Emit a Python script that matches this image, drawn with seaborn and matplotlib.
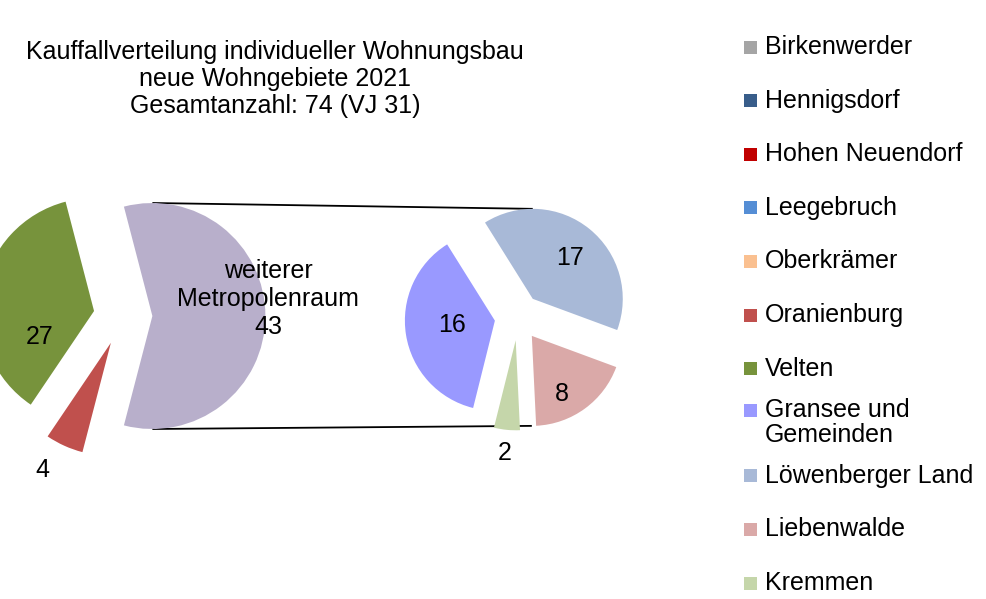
import matplotlib.pyplot as plt
from matplotlib.patches import Rectangle
import seaborn as sns

sns.set_theme(style='white')
plt.rcParams['font.family'] = ['Liberation Sans', 'DejaVu Sans']
plt.rcParams['text.color'] = 'black'

# Daten
gemeinden = ['Birkenwerder', 'Hennigsdorf', 'Hohen Neuendorf', 'Leegebruch', 'Oberkrämer',
             'Oranienburg', 'Velten', 'Gransee und\nGemeinden', 'Löwenberger Land',
             'Liebenwalde', 'Kremmen']
kauffaelle = [0, 0, 0, 0, 0, 4, 27, 16, 17, 8, 2]
farben = ['#A5A5A5', '#385D8A', '#C00000', '#558ED5', '#FAC090', '#C0504D', '#77933C',
          '#9999FF', '#A8B9D7', '#DAA9A8', '#C5D6AA']
n_berlinnah = 7  # die ersten 7 Gemeinden im linken Kreis
rest_name = 'weiterer\nMetropolenraum'
rest_farbe = '#B8AFCB'
titel = 'Kauffallverteilung individueller Wohnungsbau\nneue Wohngebiete 2021\nGesamtanzahl: 74 (VJ 31)'

fs = 18

fig = plt.figure(figsize=(9.87, 5.99), dpi=100)
ax = fig.add_axes([0, 0, 1, 1])

# linker Kreis
r_links = 113
links_werte = [v for v in kauffaelle[:n_berlinnah] if v > 0]
links_farben = [f for v, f in zip(kauffaelle[:n_berlinnah], farben) if v > 0]
rest = sum(kauffaelle[n_berlinnah:])
links_werte.append(rest)
links_farben.append(rest_farbe)
rest_winkel = 360 * rest / sum(links_werte)

w_links, _ = ax.pie(links_werte, colors=links_farben, radius=r_links, center=(123, 283),
                    startangle=360 - rest_winkel / 2, counterclock=False,
                    explode=[0.26 * r_links] * len(links_werte), wedgeprops=dict(linewidth=0))

# rechter Kreis
r_rechts = 90
rechts_werte = kauffaelle[n_berlinnah:]
w_rechts, _ = ax.pie(rechts_werte, colors=farben[n_berlinnah:], radius=r_rechts, center=(518, 282),
                     startangle=256, counterclock=False,
                     explode=[0.26 * r_rechts] * len(rechts_werte), wedgeprops=dict(linewidth=0))

# Verbindungslinien
lw = w_links[-1]
for s in (1, -1):
    ziel = w_rechts[1] if s == 1 else w_rechts[2]
    ax.plot([lw.center[0], ziel.center[0]],
            [lw.center[1] + s * lw.r, ziel.center[1] + s * ziel.r],
            color='black', lw=1.3, solid_capstyle='butt', zorder=0)

# Beschriftungen
links_pos = [(42, 129), (40, 262), (268, 300)]
links_text = [str(v) for v in links_werte[:-1]] + [rest_name + '\n' + str(rest)]
for (x, y), t in zip(links_pos, links_text):
    ax.text(x, y, t, ha='center', va='center', fontsize=fs, linespacing=1.22)

rechts_pos = [(452, 274), (570, 341), (562, 205), (505, 146)]
for (x, y), v in zip(rechts_pos, rechts_werte):
    ax.text(x, y, str(v), ha='center', va='center', fontsize=fs)

ax.text(275, 520, titel, ha='center', va='center', fontsize=fs, linespacing=1.17)

# Legende
for i, (name, farbe) in enumerate(zip(gemeinden, farben)):
    y = 599 - (47 + 53.6 * i)
    ym = y + 12 * name.count('\n')
    ax.add_patch(Rectangle((744, ym - 6.5), 13, 13, color=farbe, lw=0))
    ax.text(765, y, name, ha='left', va='center', fontsize=fs, linespacing=1.05)

ax.set_xlim(0, 987)
ax.set_ylim(0, 599)
ax.set_aspect('auto')
ax.axis('off')

fig.savefig('out.png', dpi=100)
